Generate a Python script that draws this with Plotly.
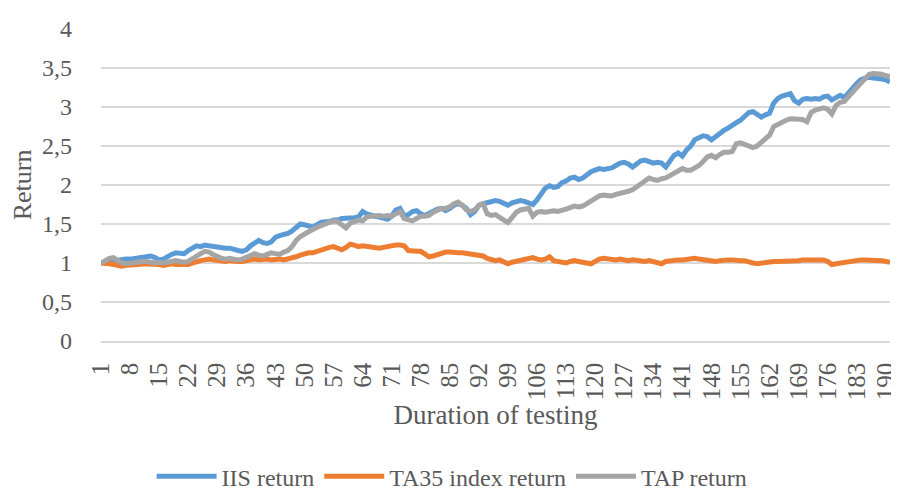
import plotly.graph_objects as go

# duration of testing (days)
days = list(range(1, 192))

iis_return = [
    1.00, 1.01, 1.02, 1.03, 1.03, 1.04, 1.05, 1.05, 1.06, 1.07,
    1.07, 1.08, 1.09, 1.07, 1.04, 1.05, 1.09, 1.11, 1.13, 1.12,
    1.12, 1.16, 1.20, 1.22, 1.21, 1.23, 1.22, 1.21, 1.20, 1.20,
    1.19, 1.19, 1.17, 1.16, 1.15, 1.17, 1.22, 1.26, 1.29, 1.26,
    1.25, 1.27, 1.33, 1.35, 1.36, 1.38, 1.41, 1.46, 1.50, 1.49,
    1.47, 1.46, 1.49, 1.52, 1.53, 1.53, 1.55, 1.55, 1.57, 1.57,
    1.58, 1.58, 1.59, 1.66, 1.63, 1.61, 1.60, 1.59, 1.58, 1.56,
    1.60, 1.68, 1.70, 1.60, 1.62, 1.66, 1.67, 1.63, 1.61, 1.64,
    1.66, 1.69, 1.70, 1.67, 1.70, 1.74, 1.76, 1.74, 1.70, 1.62,
    1.66, 1.74, 1.76, 1.77, 1.79, 1.80, 1.79, 1.77, 1.74, 1.77,
    1.79, 1.80, 1.79, 1.77, 1.75, 1.81, 1.90, 1.96, 1.99, 1.97,
    1.98, 2.03, 2.05, 2.09, 2.10, 2.07, 2.09, 2.14, 2.17, 2.19,
    2.21, 2.20, 2.21, 2.22, 2.25, 2.28, 2.29, 2.27, 2.23, 2.27,
    2.31, 2.32, 2.30, 2.28, 2.29, 2.28, 2.23, 2.32, 2.38, 2.41,
    2.37, 2.45, 2.50, 2.58, 2.61, 2.63, 2.62, 2.58, 2.62, 2.67,
    2.70, 2.73, 2.77, 2.80, 2.83, 2.88, 2.93, 2.94, 2.90, 2.87,
    2.90, 2.92, 3.05, 3.11, 3.14, 3.16, 3.17, 3.08, 3.05, 3.10,
    3.11, 3.10, 3.11, 3.10, 3.13, 3.14, 3.09, 3.12, 3.15, 3.12,
    3.19, 3.24, 3.30, 3.35, 3.37, 3.38, 3.37, 3.37, 3.36, 3.35,
    3.32,
]

ta35_return = [
    1.00, 1.00, 0.99, 0.98, 0.97, 0.96, 0.97, 0.97, 0.98, 0.98,
    0.99, 0.99, 0.99, 0.98, 0.98, 0.97, 0.98, 0.99, 0.98, 0.98,
    0.97, 0.98, 1.00, 1.02, 1.03, 1.04, 1.05, 1.04, 1.03, 1.02,
    1.02, 1.03, 1.02, 1.02, 1.02, 1.03, 1.04, 1.05, 1.04, 1.05,
    1.05, 1.04, 1.05, 1.05, 1.04, 1.05, 1.06, 1.08, 1.10, 1.12,
    1.13, 1.13, 1.15, 1.17, 1.19, 1.20, 1.21, 1.19, 1.17, 1.20,
    1.24, 1.23, 1.21, 1.22, 1.21, 1.20, 1.20, 1.19, 1.20, 1.21,
    1.23, 1.23, 1.23, 1.22, 1.16, 1.15, 1.15, 1.15, 1.12, 1.08,
    1.09, 1.11, 1.12, 1.14, 1.14, 1.13, 1.13, 1.13, 1.12, 1.11,
    1.10, 1.10, 1.09, 1.06, 1.04, 1.03, 1.04, 1.02, 0.99, 1.01,
    1.02, 1.03, 1.04, 1.06, 1.07, 1.05, 1.04, 1.05, 1.08, 1.03,
    1.02, 1.01, 1.00, 1.02, 1.03, 1.02, 1.01, 1.00, 0.99, 1.02,
    1.05, 1.06, 1.05, 1.05, 1.04, 1.05, 1.04, 1.03, 1.04, 1.03,
    1.03, 1.02, 1.03, 1.02, 1.01, 0.99, 1.02, 1.03, 1.03, 1.04,
    1.04, 1.05, 1.05, 1.06, 1.05, 1.04, 1.03, 1.02, 1.02, 1.03,
    1.04, 1.04, 1.04, 1.03, 1.03, 1.03, 1.01, 1.00, 0.99, 1.00,
    1.01, 1.01, 1.02, 1.02, 1.02, 1.03, 1.03, 1.03, 1.03, 1.04,
    1.04, 1.05, 1.05, 1.05, 1.04, 1.02, 0.98, 0.99, 1.00, 1.00,
    1.01, 1.02, 1.03, 1.04, 1.04, 1.04, 1.04, 1.03, 1.03, 1.02,
    1.01,
]

tap_return = [
    1.00, 1.03, 1.06, 1.07, 1.04, 1.00, 0.99, 1.00, 1.01, 1.01,
    1.02, 1.02, 1.01, 1.00, 1.01, 1.00, 1.01, 1.02, 1.03, 1.02,
    1.01, 1.02, 1.06, 1.09, 1.12, 1.15, 1.14, 1.11, 1.08, 1.06,
    1.05, 1.06, 1.05, 1.04, 1.05, 1.07, 1.10, 1.12, 1.10, 1.09,
    1.11, 1.13, 1.12, 1.11, 1.14, 1.16, 1.21, 1.29, 1.34, 1.38,
    1.40, 1.43, 1.46, 1.48, 1.50, 1.52, 1.54, 1.53, 1.48, 1.45,
    1.51, 1.53, 1.55, 1.54, 1.59, 1.60, 1.61, 1.61, 1.60, 1.61,
    1.60, 1.63, 1.66, 1.57, 1.55, 1.54, 1.57, 1.60, 1.60, 1.61,
    1.65, 1.68, 1.70, 1.70, 1.72, 1.76, 1.78, 1.74, 1.68, 1.66,
    1.68, 1.74, 1.76, 1.63, 1.61, 1.62, 1.58, 1.55, 1.52, 1.59,
    1.65, 1.68, 1.69, 1.70, 1.60, 1.65, 1.66, 1.65, 1.66, 1.67,
    1.66, 1.67, 1.69, 1.71, 1.73, 1.72, 1.73, 1.76, 1.79, 1.83,
    1.86, 1.87, 1.86, 1.86, 1.88, 1.89, 1.90, 1.92, 1.94, 1.98,
    2.01, 2.05, 2.09, 2.07, 2.06, 2.08, 2.09, 2.12, 2.15, 2.18,
    2.21, 2.19, 2.19, 2.22, 2.25, 2.30, 2.36, 2.38, 2.35, 2.39,
    2.42, 2.42, 2.43, 2.53, 2.54, 2.52, 2.50, 2.48, 2.50, 2.54,
    2.58, 2.64, 2.75, 2.78, 2.80, 2.83, 2.85, 2.85, 2.84, 2.84,
    2.81, 2.93, 2.96, 2.97, 2.99, 2.97, 2.91, 3.02, 3.06, 3.07,
    3.12, 3.19, 3.25, 3.30, 3.37, 3.42, 3.43, 3.43, 3.42, 3.40,
    3.39,
]

x_ticks = list(range(1, 191, 7))

FONT = "Liberation Serif, Times New Roman, serif"
GRID = "#d9d9d9"

fig = go.Figure()
for name, vals, col in [("IIS return", iis_return, "#5b9bd5"),
                        ("TA35 index return", ta35_return, "#ed7d31"),
                        ("TAP return", tap_return, "#a5a5a5")]:
    fig.add_trace(go.Scatter(x=days, y=vals, mode="lines", name=name,
                             line=dict(color=col, width=5)))

fig.update_layout(
    width=899, height=499,
    margin=dict(l=91, r=8, t=14, b=158),
    paper_bgcolor="white", plot_bgcolor="white",
    separators=",.",
    font=dict(family=FONT, size=24, color="#595959"),
    showlegend=True,
    legend=dict(orientation="h", x=0.445, xanchor="center", y=-0.435, yanchor="middle",
                font=dict(size=24, color="#595959"), itemwidth=60),
)
fig.update_xaxes(
    range=[1, 191], tickmode="array", tickvals=x_ticks, tickangle=-90,
    showgrid=False, zeroline=False, showline=True, linecolor=GRID, linewidth=1.5,
    ticks="", ticklabelstandoff=10, ticklabeloverflow="allow", tickfont=dict(size=25),
    title=dict(text="Duration of testing", font=dict(size=27), standoff=2),
)
fig.update_yaxes(
    range=[0, 4], dtick=0.5, showgrid=True, gridcolor=GRID, gridwidth=1.5,
    zeroline=False, ticks="", ticklabelstandoff=28, tickfont=dict(size=24),
    title=dict(text="Return", font=dict(size=26), standoff=8),
)

fig.write_html("out.html")
